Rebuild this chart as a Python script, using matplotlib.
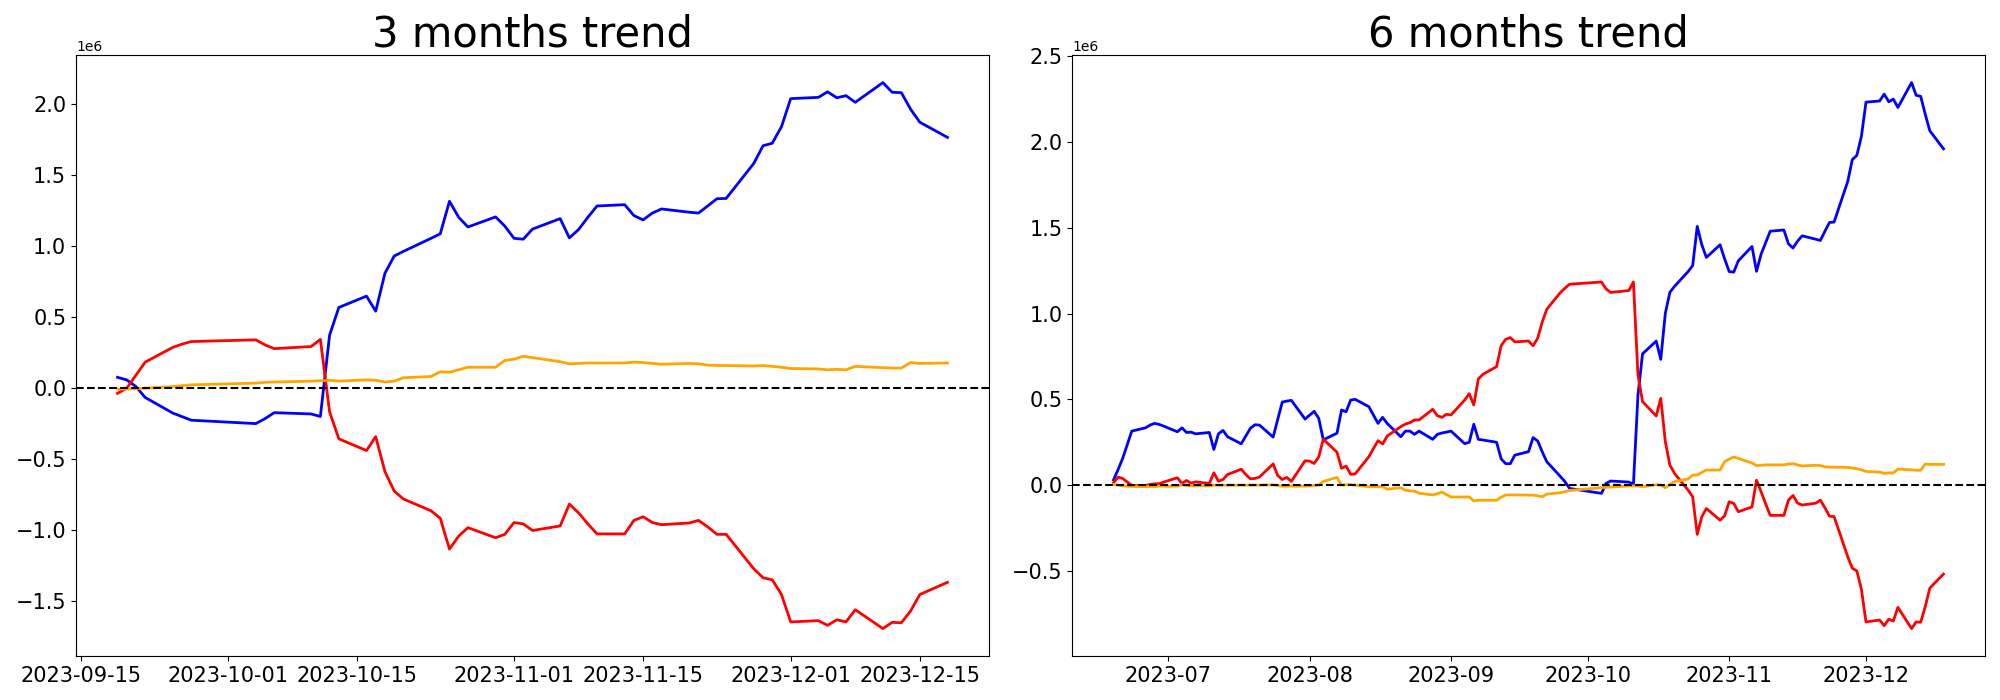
import pandas as pd
import matplotlib
matplotlib.use("Agg")
import matplotlib.pyplot as plt

# --- data (values in units of 1e6) ---
# 3 months window
dates_3m = pd.bdate_range("2023-09-19", "2023-12-18").drop(pd.to_datetime(
    ["2023-09-28", "2023-09-29", "2023-10-02", "2023-10-03", "2023-10-09"]))

blue_3m = [0.077, 0.059, 0.012, -0.065, -0.175, -0.200, -0.225,
           -0.249, -0.214, -0.172, -0.181, -0.199, 0.374, 0.569, 0.649, 0.543, 0.810, 0.931, 0.964,
           1.056, 1.088, 1.317, 1.204, 1.136, 1.207, 1.142,
           1.056, 1.050, 1.121, 1.195, 1.059, 1.118, 1.204, 1.284, 1.293, 1.216, 1.186, 1.234, 1.263,
           1.240, 1.234, 1.284, 1.335, 1.337, 1.584, 1.708, 1.726, 1.842,
           2.040, 2.049, 2.088, 2.046, 2.061, 2.014, 2.153, 2.085, 2.082, 1.966, 1.874, 1.767]
red_3m = [-0.036, 0.000, 0.092, 0.184, 0.288, 0.311, 0.329,
          0.341, 0.305, 0.279, 0.294, 0.344, -0.166, -0.356, -0.439, -0.341, -0.587, -0.724, -0.780,
          -0.863, -0.916, -1.133, -1.041, -0.982, -1.053, -1.029,
          -0.946, -0.955, -1.002, -0.970, -0.816, -0.878, -0.955, -1.026, -1.026, -0.931, -0.905, -0.946, -0.961,
          -0.949, -0.931, -0.976, -1.029, -1.029, -1.272, -1.335, -1.349, -1.453,
          -1.646, -1.637, -1.670, -1.631, -1.646, -1.560, -1.693, -1.649, -1.652, -1.569, -1.453, -1.367]
orange_3m = [-0.005, -0.006, -0.003, 0.000, 0.012, 0.018, 0.024,
             0.036, 0.042, 0.044, 0.050, 0.053, 0.056, 0.050, 0.059, 0.056, 0.044, 0.050, 0.074,
             0.083, 0.116, 0.113, 0.130, 0.148, 0.148, 0.196,
             0.205, 0.225, 0.216, 0.187, 0.172, 0.175, 0.178, 0.178, 0.178, 0.184, 0.181, 0.175, 0.169,
             0.175, 0.172, 0.163, 0.160, 0.160, 0.157, 0.160, 0.154, 0.148,
             0.139, 0.136, 0.130, 0.133, 0.130, 0.154, 0.145, 0.142, 0.142, 0.181, 0.175, 0.178]

# 6 months window
dates_6m = pd.bdate_range("2023-06-19", "2023-12-18").drop(pd.to_datetime(
    ["2023-06-22", "2023-09-28", "2023-09-29", "2023-10-02", "2023-10-03", "2023-10-09"]))

blue_6m = [0.031, 0.091, 0.156, 0.315, 0.334, 0.350, 0.360, 0.354, 0.344,
           0.311, 0.334, 0.307, 0.309, 0.299, 0.307, 0.208, 0.299, 0.319, 0.282, 0.241, 0.286, 0.331,
           0.352, 0.350, 0.280, 0.383, 0.484, 0.490, 0.494, 0.385,
           0.408, 0.430, 0.389, 0.264, 0.303, 0.438, 0.428, 0.496, 0.500, 0.457, 0.408, 0.360, 0.395,
           0.360, 0.282, 0.315, 0.315, 0.296, 0.315, 0.267, 0.296, 0.304, 0.309,
           0.315, 0.242, 0.250, 0.355, 0.267, 0.263, 0.250, 0.153, 0.125, 0.125, 0.175, 0.195, 0.277,
           0.258, 0.195, 0.137, 0.050, 0.020, -0.019,
           -0.048, 0.010, 0.024, 0.018, 0.004, 0.525, 0.765, 0.840, 0.733, 1.002, 1.124, 1.158,
           1.245, 1.280, 1.508, 1.401, 1.327, 1.401, 1.319,
           1.245, 1.241, 1.307, 1.391, 1.246, 1.346, 1.413, 1.480, 1.487, 1.406, 1.382, 1.422, 1.453,
           1.433, 1.426, 1.480, 1.531, 1.533, 1.770, 1.897, 1.922, 2.033,
           2.232, 2.239, 2.279, 2.234, 2.250, 2.201, 2.346, 2.272, 2.266, 2.161, 2.065, 1.960]
red_6m = [0.014, 0.047, 0.039, -0.002, -0.002, 0.004, 0.008, 0.008, 0.018,
          0.043, 0.010, 0.027, 0.012, 0.019, 0.010, 0.072, 0.023, 0.033, 0.062, 0.093, 0.062, 0.037,
          0.039, 0.047, 0.124, 0.056, 0.033, 0.045, 0.022, 0.142,
          0.140, 0.126, 0.165, 0.268, 0.192, 0.098, 0.111, 0.063, 0.066, 0.166, 0.214, 0.259, 0.240,
          0.286, 0.341, 0.356, 0.364, 0.380, 0.380, 0.442, 0.405, 0.395, 0.413,
          0.409, 0.496, 0.533, 0.467, 0.619, 0.646, 0.691, 0.813, 0.850, 0.860, 0.835, 0.840, 0.812,
          0.856, 0.950, 1.025, 1.123, 1.148, 1.171,
          1.184, 1.144, 1.123, 1.134, 1.184, 0.642, 0.487, 0.403, 0.506, 0.253, 0.117, 0.069,
          -0.029, -0.068, -0.287, -0.184, -0.136, -0.204, -0.179,
          -0.097, -0.106, -0.155, -0.127, 0.029, -0.038, -0.109, -0.176, -0.176, -0.087, -0.060, -0.105, -0.116,
          -0.105, -0.087, -0.132, -0.181, -0.183, -0.417, -0.484, -0.500, -0.607,
          -0.797, -0.786, -0.819, -0.781, -0.792, -0.712, -0.836, -0.797, -0.799, -0.708, -0.600, -0.518]
orange_6m = [0.004, 0.000, -0.004, -0.008, -0.009, -0.008, -0.008, -0.006, -0.006,
             -0.006, 0.002, -0.002, -0.004, -0.004, -0.004, 0.000, 0.000, 0.000, 0.000, 0.000, 0.000, 0.000,
             0.000, 0.000, 0.002, -0.002, -0.006, -0.006, -0.006, -0.006,
             -0.004, -0.002, 0.000, 0.022, 0.045, 0.000, 0.002, 0.004, 0.000, -0.009, -0.009, -0.009, -0.009,
             -0.023, -0.015, -0.030, -0.033, -0.035, -0.047, -0.057, -0.050, -0.040, -0.055,
             -0.069, -0.069, -0.069, -0.092, -0.088, -0.088, -0.088, -0.070, -0.057, -0.057, -0.057, -0.058, -0.058,
             -0.062, -0.068, -0.052, -0.044, -0.038, -0.031,
             -0.015, -0.013, -0.011, -0.005, -0.004, -0.005, -0.009, 0.002, 0.000, -0.015, 0.004, 0.020,
             0.036, 0.059, 0.059, 0.074, 0.088, 0.088, 0.137,
             0.152, 0.164, 0.156, 0.129, 0.114, 0.116, 0.118, 0.118, 0.118, 0.123, 0.125, 0.118, 0.112,
             0.116, 0.114, 0.107, 0.105, 0.105, 0.103, 0.100, 0.096, 0.089,
             0.080, 0.076, 0.069, 0.071, 0.071, 0.094, 0.089, 0.087, 0.087, 0.123, 0.121, 0.121]

panels = [
    ("3 months trend", dates_3m, blue_3m, red_3m, orange_3m),
    ("6 months trend", dates_6m, blue_6m, red_6m, orange_6m),
]

fig, axes = plt.subplots(1, 2, figsize=(20, 7), dpi=100)
fig.subplots_adjust(left=0.038, right=0.9925, bottom=0.063, top=0.921, wspace=0.091)

for ax, (title, dates, blue, red, orange) in zip(axes, panels):
    scale = 1e6
    ax.plot(dates, [v * scale for v in blue], color="blue", lw=2)
    ax.plot(dates, [v * scale for v in red], color="red", lw=2)
    ax.plot(dates, [v * scale for v in orange], color="orange", lw=2)
    ax.axhline(0, color="black", linestyle="--", lw=1.5)
    ax.set_title(title, fontsize=30)
    ax.tick_params(labelsize=15)

fig.savefig("out.png")
